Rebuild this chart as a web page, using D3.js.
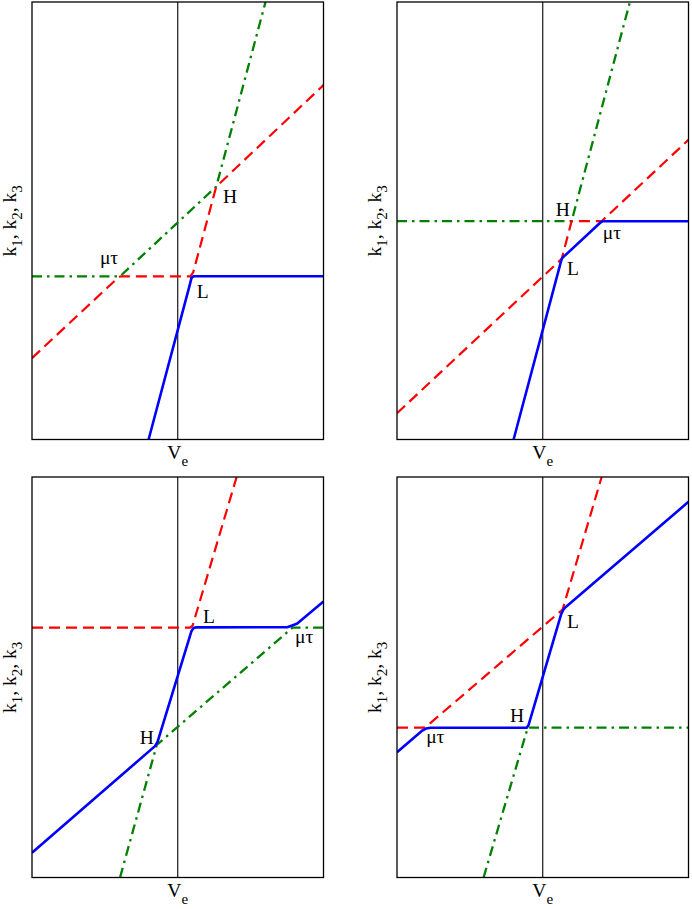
<!DOCTYPE html>
<html>
<head>
<meta charset="utf-8">
<script src="https://cdn.jsdelivr.net/npm/d3@7"></script>
<style>
  html, body { margin: 0; padding: 0; background: #fff; }
  svg { display: block; }
  text { font-family: "Liberation Serif", "Times New Roman", serif; fill: #000; }
</style>
</head>
<body>
<svg id="chart" width="692" height="909"></svg>
<script>
// ---------- DATA (x: -50..50 with V_e at 0, y: 0..100) ----------
const panelNames = ["top-left", "top-right", "bottom-left", "bottom-right"];

// blue solid curve per panel
const blueTL = [[-10.0, 0], [4.1, 35.3], [4.7, 36.9], [5.4, 37.3], [50, 37.3]];
const blueTR = [[-10.0, 0], [6.1, 40.3], [6.6, 41.4], [7.2, 41.8], [19.8, 49.6], [20.6, 49.9], [50, 49.9]];
const blueBL = [[-50, 6.2], [-7.8, 32.8], [-6.9, 33.9], [4.7, 61.5], [5.4, 62.3], [6.3, 62.45], [37.5, 62.5], [39.5, 63.0], [41.0, 63.4], [50, 68.9]];
const blueBR = [[-50, 31.3], [-41.5, 36.6], [-40.0, 37.2], [-38.5, 37.4], [-5.5, 37.4], [-4.9, 38.0], [6.3, 65.7], [7.0, 66.8], [7.8, 67.5], [50, 93.8]];

// red dashed curve per panel
const redTL = [[-50, 18.6], [-20.3, 37.1], [-19.5, 37.3], [4.3, 37.3], [5.3, 38.2], [13.2, 57.8], [50, 81.0]];
const redTR = [[-50, 6.0], [6.5, 41.3], [9.9, 49.9], [20.2, 49.9], [50, 68.5]];
const redBL = [[-50, 62.4], [4.3, 62.4], [5.1, 62.9], [20.2, 100]];
const redBR = [[-50, 37.4], [-41.0, 37.4], [-39.6, 37.9], [6.8, 66.9], [20.2, 100]];

// green dash-dot curve per panel
const greenTL = [[-50, 37.3], [-19.8, 37.3], [13.2, 57.8], [30.1, 100]];
const greenTR = [[-50, 49.9], [9.9, 49.9], [29.9, 100]];
const greenBL = [[-19.8, 0], [-7.2, 33.1], [39.4, 62.4], [50, 62.4]];
const greenBR = [[-20.3, 0], [-5.16, 37.4], [50, 37.4]];

// point labels per panel: [text, x, y] (text start, baseline)
const labelsTL = [["H", 15.5, 54.1], ["\u03bc\u03c4", -26.7, 40.1], ["L", 6.5, 32.3]];
const labelsTR = [["H", 4.5, 51.1], ["\u03bc\u03c4", 20.6, 45.8], ["L", 8.3, 37.6]];
const labelsBL = [["L", 8.7, 63.5], ["\u03bc\u03c4", 40.2, 58.6], ["H", -13.0, 33.4]];
const labelsBR = [["H", -11.2, 38.9], ["\u03bc\u03c4", -40.0, 33.6], ["L", 8.3, 62.4]];

const xLabel = ["V", "e"];
const yLabel = [["k", "1"], ["k", "2"], ["k", "3"]];
const xDomain = [-50, 50];
const yDomain = [0, 100];

// ---------- LAYOUT ----------
const boxes = [
  { x: 32, y: 2, w: 291.5, h: 437.5 },
  { x: 397, y: 2, w: 291.5, h: 437.5 },
  { x: 32, y: 477, w: 291.5, h: 400.5 },
  { x: 397, y: 477, w: 291.5, h: 400.5 }
];
const panels = [
  { blue: blueTL, red: redTL, green: greenTL, labels: labelsTL },
  { blue: blueTR, red: redTR, green: greenTR, labels: labelsTR },
  { blue: blueBL, red: redBL, green: greenBL, labels: labelsBL },
  { blue: blueBR, red: redBR, green: greenBR, labels: labelsBR }
];

const svg = d3.select("#chart");

panels.forEach((p, i) => {
  const b = boxes[i];
  const x = d3.scaleLinear().domain(xDomain).range([b.x, b.x + b.w]);
  const y = d3.scaleLinear().domain(yDomain).range([b.y + b.h, b.y]);
  const g = svg.append("g").attr("class", "panel " + panelNames[i]);

  const clipId = "clip" + i;
  svg.append("clipPath").attr("id", clipId)
    .append("rect").attr("x", b.x).attr("y", b.y).attr("width", b.w).attr("height", b.h);

  // V_e vertical line
  g.append("line")
    .attr("x1", x(0)).attr("x2", x(0))
    .attr("y1", y(yDomain[0])).attr("y2", y(yDomain[1]))
    .attr("stroke", "#000").attr("stroke-width", 1.1);

  const line = d3.line().x(d => x(d[0])).y(d => y(d[1]));
  const curves = g.append("g").attr("clip-path", `url(#${clipId})`);

  curves.append("path").datum(p.green)
    .attr("d", line).attr("fill", "none")
    .attr("stroke", "#008000").attr("stroke-width", 2.3)
    .attr("stroke-dasharray", "10,5,2.5,5");
  curves.append("path").datum(p.red)
    .attr("d", line).attr("fill", "none")
    .attr("stroke", "#ff0000").attr("stroke-width", 2.2)
    .attr("stroke-dasharray", "11,6");
  curves.append("path").datum(p.blue)
    .attr("d", line).attr("fill", "none")
    .attr("stroke", "#0000ff").attr("stroke-width", 2.6)
    .attr("stroke-linejoin", "round");

  // frame
  g.append("rect")
    .attr("x", b.x).attr("y", b.y).attr("width", b.w).attr("height", b.h)
    .attr("fill", "none").attr("stroke", "#000").attr("stroke-width", 1.3);

  // point labels
  g.selectAll("text.pt").data(p.labels).join("text")
    .attr("class", "pt")
    .attr("x", d => x(d[1])).attr("y", d => y(d[2]))
    .attr("font-size", 19.5)
    .text(d => d[0]);

  // x label V_e
  const xl = g.append("text")
    .attr("x", x(0)).attr("y", b.y + b.h + 19)
    .attr("text-anchor", "middle").attr("font-size", 19.5);
  xl.append("tspan").text(xLabel[0]);
  xl.append("tspan").attr("font-size", 15).attr("dy", 7).text(xLabel[1]);

  // y label k1, k2, k3
  const yl = g.append("text")
    .attr("transform", `translate(${b.x - 16},${b.y + b.h / 2}) rotate(-90)`)
    .attr("text-anchor", "middle").attr("font-size", 19.5);
  yLabel.forEach((k, j) => {
    yl.append("tspan").attr("dy", j === 0 ? 0 : -6).text((j === 0 ? "" : ", ") + k[0]);
    yl.append("tspan").attr("font-size", 15).attr("dy", 6).text(k[1]);
  });
});
</script>
</body>
</html>
